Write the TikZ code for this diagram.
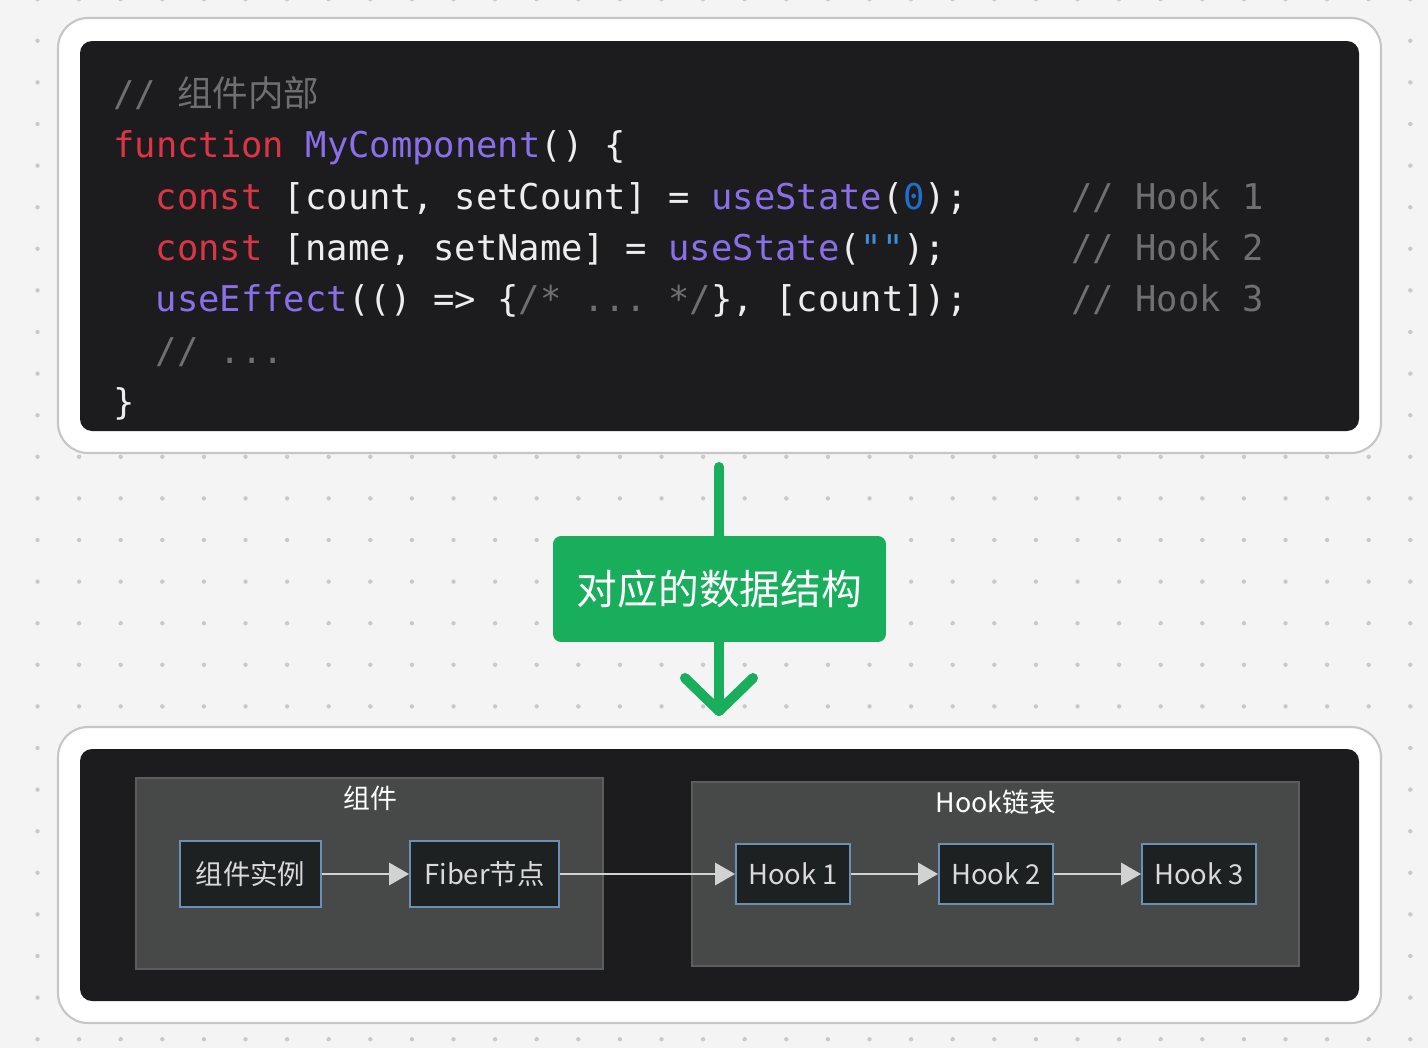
\documentclass[tikz,border=0pt]{standalone}
\usepackage{fontspec}
\setmonofont{DejaVu Sans Mono}
\newfontfamily\cjk{Noto Sans CJK SC}
\usetikzlibrary{arrows.meta}
\definecolor{bgc}{HTML}{F4F4F4}
\definecolor{dotc}{HTML}{C9C9C9}
\definecolor{cardborder}{HTML}{C6C6C6}
\definecolor{codebg}{HTML}{1C1C1E}
\definecolor{cmt}{HTML}{6F6F6F}
\definecolor{kw}{HTML}{DC3545}
\definecolor{fn}{HTML}{8B6FE8}
\definecolor{txt}{HTML}{EDEDED}
\definecolor{num}{HTML}{1E6FD0}
\definecolor{str}{HTML}{3A8EDB}
\definecolor{ggreen}{HTML}{19AE5C}
\definecolor{grpfill}{HTML}{474848}
\definecolor{grpborder}{HTML}{5C5C5C}
\definecolor{nodefill}{HTML}{1E2121}
\definecolor{nodeborder}{HTML}{6A90B8}
\definecolor{edgec}{HTML}{D2D2D2}
\tikzset{
  card/.style={draw=cardborder, fill=white, line width=1.2pt, rounded corners=0.6cm},
  codebox/.style={fill=codebg, rounded corners=0.24cm},
  codeline/.style={anchor=base west, inner sep=0pt, text=txt, font=\fontsize{20.2}{24}\selectfont\ttfamily},
  garrow/.style={draw=ggreen, line width=5.7pt, line cap=round, line join=round},
  gbox/.style={fill=ggreen, rounded corners=0.16cm, text=white, font=\cjk\fontsize{23.2}{28}\selectfont, minimum width=6.66cm, minimum height=2.12cm, inner sep=0pt},
  grp/.style={draw=grpborder, fill=grpfill, line width=1.1pt, inner sep=0pt},
  grptitle/.style={text=white, font=\cjk\fontsize{15.3}{18}\selectfont, inner sep=0pt},
  hnode/.style={draw=nodeborder, fill=nodefill, line width=1.1pt, text=white!85!black, font=\cjk\fontsize{15.6}{18}\selectfont, inner sep=0pt},
  edge/.style={draw=edgec, line width=1.7pt, -{Triangle[length=11.3pt, width=12.5pt]}},
}
\begin{document}
\begin{tikzpicture}[x=0.02cm, y=-0.02cm]
\useasboundingbox (0,0) rectangle (1428,1048);
\fill[bgc] (0,0) rectangle (1428,1048);
% dots
\foreach \i in {0,...,34} {
  \foreach \j in {0,...,25} {
    \fill[dotc] ({-4.1+41.6*\i},{-0.8+41.6*\j}) circle (2.2);
  }
}
% top card
\draw[card] (58,18) rectangle (1381,453);
\fill[codebox] (80,41) rectangle (1359,431);
\node[codeline] (l1) at (113,106.5) {\color{cmt}// {\cjk 组件内部}};
\node[codeline] (l2) at (113,157.8) {{\color{kw}function} {\color{fn}MyComponent}() \{};
\node[codeline] (l3) at (155.4,209.1) {{\color{kw}const} [count, setCount] = {\color{fn}useState}({\color{num}0});};
\node[codeline] (l4) at (155.4,260.4) {{\color{kw}const} [name, setName] = {\color{fn}useState}({\color{str}""});};
\node[codeline] (l5) at (155.4,311.7) {{\color{fn}useEffect}(() => \{{\color{cmt}/* ... */}\}, [count]);};
\node[codeline] (l6) at (155.4,363) {\color{cmt}// ...};
\node[codeline] (l7) at (113,414.3) {\}};
\node[codeline] (c1) at (1071,209.1) {\color{cmt}// Hook 1};
\node[codeline] (c2) at (1071,260.4) {\color{cmt}// Hook 2};
\node[codeline] (c3) at (1071,311.7) {\color{cmt}// Hook 3};
% green arrow
\coordinate (atop) at (719,467);
\coordinate (atip) at (719,711);
\coordinate (aleft) at (685,678);
\coordinate (aright) at (753,678);
\draw[garrow] (atop) -- (atip);
\draw[garrow] (aleft) -- (atip) -- (aright);
\node[gbox] (gb) at (719.5,589) {对应的数据结构};
% bottom card
\draw[card] (58,727) rectangle (1381,1023);
\fill[codebox] (80,749) rectangle (1359,1001);
\node[grp, minimum width=9.34cm, minimum height=3.82cm] (g1) at (369.5,873.5) {};
\node[grptitle] (t1) at (370,798) {组件};
\node[grp, minimum width=12.14cm, minimum height=3.68cm] (g2) at (995.5,874) {};
\node[grptitle] (t2) at (996,802) {Hook链表};
\node[hnode, minimum width=2.82cm, minimum height=1.32cm] (inst) at (250.5,874) {组件实例};
\node[hnode, minimum width=2.98cm, minimum height=1.32cm] (fiber) at (484.5,874) {Fiber节点};
\node[hnode, minimum width=2.28cm, minimum height=1.2cm] (h1) at (793,874) {Hook 1};
\node[hnode, minimum width=2.28cm, minimum height=1.2cm] (h2) at (996,874) {Hook 2};
\node[hnode, minimum width=2.28cm, minimum height=1.2cm] (h3) at (1199,874) {Hook 3};
\draw[edge] (inst) -- (fiber);
\draw[edge] (fiber) -- (h1);
\draw[edge] (h1) -- (h2);
\draw[edge] (h2) -- (h3);
\end{tikzpicture}
\end{document}
